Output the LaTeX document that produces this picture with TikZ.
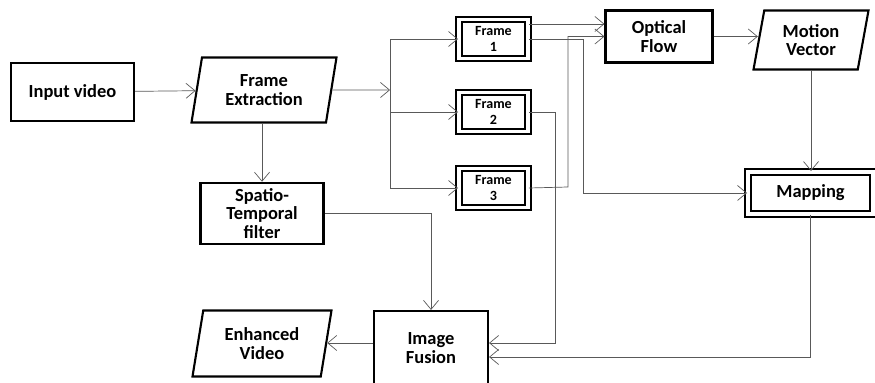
\documentclass[tikz,border=0pt]{standalone}
\usepackage{fontspec}
\setmainfont{Carlito}
\usetikzlibrary{arrows.meta, shapes.geometric}

\begin{document}
\begin{tikzpicture}[->, >={Straight Barb[length=1.8mm, width=3mm]}, thin,
	link/.style={draw=black!65},
	block/.style={rectangle, draw=black, line width=1.2pt, align=center, font=\bfseries\fontsize{10.5}{10.4}\selectfont},
	io/.style={trapezium, trapezium left angle=76, trapezium right angle=104, trapezium stretches body, draw=black, line width=1.2pt, align=center, font=\bfseries\fontsize{10.5}{10.4}\selectfont},
	frame box/.style={rectangle, draw=black, double=white, double distance=2.2pt, line width=1.1pt, align=center, minimum width=1.38cm, minimum height=0.78cm, font=\bfseries\fontsize{8}{8.6}\selectfont}]
	
	\useasboundingbox (0,0) rectangle (17.5,-7.66);
	
	% Nodes
	\node[block, minimum width=2.46cm, minimum height=1.16cm] (input) at (1.45,-1.84) {Input video};
	\node[io, minimum width=2.9cm, minimum height=1.3cm] (extract) at (5.28,-1.8) {Frame\\Extraction};
	\node[block, minimum width=2.46cm, minimum height=1.2cm] (spatio) at (5.24,-4.27) {Spatio-\\Temporal\\filter};
	\node[frame box] (frame1) at (9.87,-0.78) {Frame\\1};
	\node[frame box] (frame2) at (9.87,-2.24) {Frame\\2};
	\node[frame box] (frame3) at (9.87,-3.76) {Frame\\3};
	\node[block, minimum width=2.14cm, minimum height=1.04cm] (optical) at (13.18,-0.73) {Optical\\Flow};
	\node[io, minimum width=2.3cm, minimum height=1.18cm] (motion) at (16.22,-0.8) {Motion\\Vector};
	\node[frame box, minimum width=2.5cm, minimum height=0.84cm, font=\bfseries\fontsize{10.5}{10.4}\selectfont] (mapping) at (16.21,-3.86) {Mapping};
	\node[block, minimum width=2.28cm, minimum height=1.48cm] (fusion) at (8.62,-6.96) {Image\\Fusion};
	\node[io, minimum width=2.78cm, minimum height=1.32cm] (enhanced) at (5.24,-6.87) {Enhanced\\Video};
	
	% Bend points
	\coordinate (split) at (7.8,-1.8);
	\coordinate (bendA) at (11.66,-3.86);
	\coordinate (bendB) at (11.36,-3.74);
	\coordinate (bendC) at (11.1,-6.86);
	
	% Edges
	\draw[link] (input) -- (extract);
	\draw[link] (extract) -- (split);
	\draw[link] (split) |- (frame1);
	\draw[link] (split) |- (frame2);
	\draw[link] (split) |- (frame3);
	\draw[link] (extract.south -| spatio.north) -- (spatio.north);
	\draw[link] ([yshift=0.3cm]frame1.east) -- ([yshift=0.3cm]frame1.east -| optical.west);
	\draw[link] (frame1.east) -| (bendA) -- (mapping.west);
	\draw[link] (frame3.east) -- (bendB) |- (optical.west);
	\draw[link] (frame2.east) -| (bendC) -- ([yshift=0.1cm]fusion.east);
	\draw[link] (optical.east) -- (optical.east -| motion.west);
	\draw[link] (motion.south) -- (motion.south |- mapping.north);
	\draw[link] (mapping.south) |- ([yshift=-0.18cm]fusion.east);
	\draw[link] (spatio.east) -| (fusion.north);
	\draw[link] ([yshift=0.1cm]fusion.west) -- ([yshift=0.1cm]fusion.west -| enhanced.east);
\end{tikzpicture}
\end{document}
